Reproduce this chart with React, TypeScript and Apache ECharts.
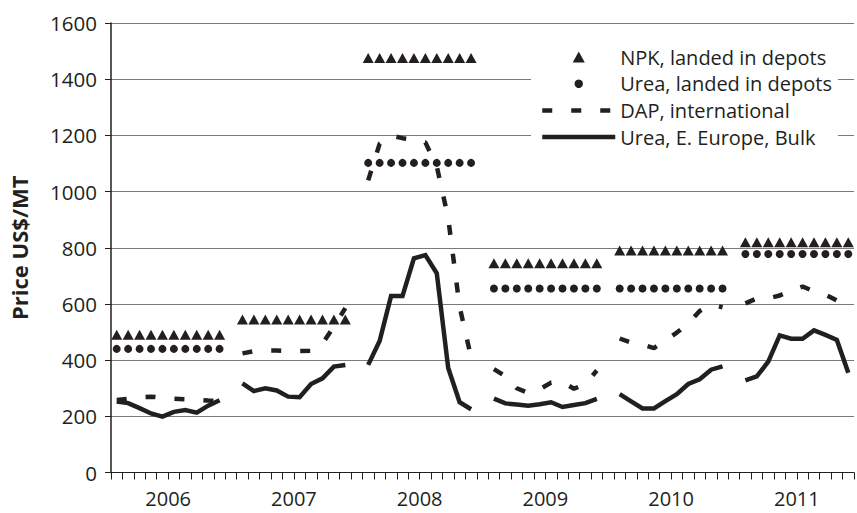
import React, { useEffect, useRef } from 'react';
import * as echarts from 'echarts';

// Year labels for the x axis
const years = ['2006', '2007', '2008', '2009', '2010', '2011'];
// each year occupies 11 slots on the axis: 10 monthly observations + 1 blank slot
const SLOTS_PER_YEAR = 11;
const TOTAL_SLOTS = 65;

// NPK, landed in depots (US$/MT)
const npkLanded: (number[] | null)[] = [
  [490, 490, 490, 490, 490, 490, 490, 490, 490, 490],
  [545, 545, 545, 545, 545, 545, 545, 545, 545, 545],
  [1475, 1475, 1475, 1475, 1475, 1475, 1475, 1475, 1475, 1475],
  [745, 745, 745, 745, 745, 745, 745, 745, 745, 745],
  [790, 790, 790, 790, 790, 790, 790, 790, 790, 790],
  [820, 820, 820, 820, 820, 820, 820, 820, 820, 820],
];

// Urea, landed in depots (US$/MT) - no 2007 observations
const ureaLanded: (number[] | null)[] = [
  [440, 440, 440, 440, 440, 440, 440, 440, 440, 440],
  null,
  [1102, 1102, 1102, 1102, 1102, 1102, 1102, 1102, 1102, 1102],
  [655, 655, 655, 655, 655, 655, 655, 655, 655, 655],
  [655, 655, 655, 655, 655, 655, 655, 655, 655, 655],
  [778, 778, 778, 778, 778, 778, 778, 778, 778, 778],
];

// DAP, international (US$/MT)
const dapInternational: (number[] | null)[] = [
  [258, 262, 268, 270, 266, 263, 261, 259, 256, 254],
  [424, 432, 434, 434, 433, 432, 433, 458, 520, 585],
  [1040, 1170, 1200, 1190, 1185, 1175, 1090, 905, 590, 410],
  [368, 343, 300, 283, 296, 320, 322, 298, 315, 363],
  [477, 462, 455, 443, 470, 498, 530, 575, 598, 588],
  [602, 620, 620, 630, 648, 662, 645, 633, 612, 598],
];

// Urea, E. Europe, Bulk (US$/MT)
const ureaEEurope: (number[] | null)[] = [
  [253, 247, 229, 210, 199, 216, 222, 213, 238, 257],
  [317, 290, 300, 292, 270, 268, 315, 335, 377, 383],
  [383, 468, 628, 628, 762, 774, 709, 372, 250, 225],
  [263, 246, 242, 238, 243, 250, 233, 240, 247, 262],
  [279, 253, 228, 228, 254, 279, 315, 332, 366, 378],
  [328, 342, 395, 488, 476, 476, 506, 490, 472, 355],
];

const yTicks = { min: 0, max: 1600, interval: 200 };

const INK = '#231f20';
const FONT = '"Open Sans", "Noto Sans", sans-serif';

function toPoints(rows: (number[] | null)[]): (number | string)[][] {
  const out: (number | string)[][] = [];
  rows.forEach((row, yi) => {
    if (!row) return;
    row.forEach((v, j) => out.push([yi * SLOTS_PER_YEAR + j + 0.5, v]));
    out.push([yi * SLOTS_PER_YEAR + row.length + 0.5, '-']);
  });
  return out;
}

export default function App() {
  const ref = useRef<HTMLDivElement>(null);

  useEffect(() => {
    if (!ref.current) return;
    const chart = echarts.init(ref.current, undefined, { renderer: 'svg' });
    const dash = [10, 19];
    chart.setOption({
      animation: false,
      backgroundColor: '#ffffff',
      textStyle: { fontFamily: FONT, color: INK },
      grid: { left: 111, top: 23, bottom: 40.5, right: -3.5 },
      legend: {
        orient: 'vertical',
        left: 531,
        top: 33,
        padding: [14, 6, 14, 9],
        backgroundColor: '#ffffff',
        itemWidth: 73,
        itemHeight: 11,
        itemGap: 6.7,
        symbolKeepAspect: true,
        selectedMode: false,
        textStyle: {
          fontFamily: FONT,
          fontSize: 20,
          lineHeight: 20,
          color: INK,
          padding: [0, 0, 0, 0],
        },
        data: [
          {
            name: 'NPK, landed in depots',
            icon: 'path://M5.5,0 L11,10 L0,10 Z',
            itemStyle: { color: INK, opacity: 1 },
          },
          {
            name: 'Urea, landed in depots',
            icon: 'circle',
            itemStyle: { color: INK, opacity: 1, borderColor: '#ffffff', borderWidth: 2.5 },
          },
          {
            name: 'DAP, international',
            itemStyle: { opacity: 0 },
            lineStyle: { color: INK, width: 4.5, type: dash, cap: 'butt' },
          },
          {
            name: 'Urea, E. Europe, Bulk',
            itemStyle: { opacity: 0 },
            lineStyle: { color: INK, width: 4.5, type: 'solid' },
          },
        ],
      },
      xAxis: {
        type: 'value',
        min: 0,
        max: TOTAL_SLOTS,
        interval: 1,
        axisLine: { show: true, onZero: false, lineStyle: { color: INK, width: 1 } },
        axisTick: { show: true, inside: false, length: 7, lineStyle: { color: INK, width: 1 } },
        splitLine: { show: false },
        axisLabel: {
          margin: 16,
          fontSize: 20,
          lineHeight: 20,
          fontFamily: FONT,
          color: INK,
          formatter: (v: number) => {
            const k = (v - 5) / SLOTS_PER_YEAR;
            const r = Math.round(k);
            if (Math.abs(k - r) < 1e-6 && r >= 0 && r < years.length) return years[r];
            return '';
          },
        },
      },
      yAxis: {
        type: 'value',
        min: yTicks.min,
        max: yTicks.max,
        interval: yTicks.interval,
        name: 'Price US$/MT',
        nameLocation: 'middle',
        nameGap: 81,
        nameTextStyle: { fontFamily: FONT, fontSize: 22, fontWeight: 'bold', color: INK },
        axisLine: { show: true, lineStyle: { color: INK, width: 1.5 } },
        axisTick: { show: true, inside: false, length: 6, lineStyle: { color: INK, width: 1 } },
        axisLabel: {
          margin: 14,
          fontSize: 20.5,
          fontFamily: FONT,
          color: INK,
          formatter: (v: number) => String(v),
        },
        splitLine: { show: true, lineStyle: { color: '#7a7a7a', width: 1 } },
      },
      series: [
        {
          name: 'NPK, landed in depots',
          type: 'scatter',
          symbol: 'triangle',
          symbolSize: [11, 10],
          itemStyle: { color: INK, opacity: 1 },
          data: toPoints(npkLanded),
          z: 3,
        },
        {
          name: 'Urea, landed in depots',
          type: 'scatter',
          symbol: 'circle',
          symbolSize: 8,
          itemStyle: { color: INK, opacity: 1 },
          data: toPoints(ureaLanded),
          z: 3,
        },
        {
          name: 'DAP, international',
          type: 'line',
          symbol: 'none',
          showSymbol: false,
          connectNulls: false,
          itemStyle: { color: INK },
          lineStyle: { color: INK, width: 4.5, type: dash, cap: 'butt' },
          data: toPoints(dapInternational),
          z: 2,
        },
        {
          name: 'Urea, E. Europe, Bulk',
          type: 'line',
          symbol: 'none',
          showSymbol: false,
          connectNulls: false,
          itemStyle: { color: INK },
          lineStyle: { color: INK, width: 4.5, type: 'solid', join: 'miter' },
          data: toPoints(ureaEEurope),
          z: 2,
        },
      ],
    });
    return () => chart.dispose();
  }, []);

  return (
    <div
      ref={ref}
      style={{ position: 'absolute', left: 0, top: 0, width: 857, height: 513 }}
    />
  );
}
